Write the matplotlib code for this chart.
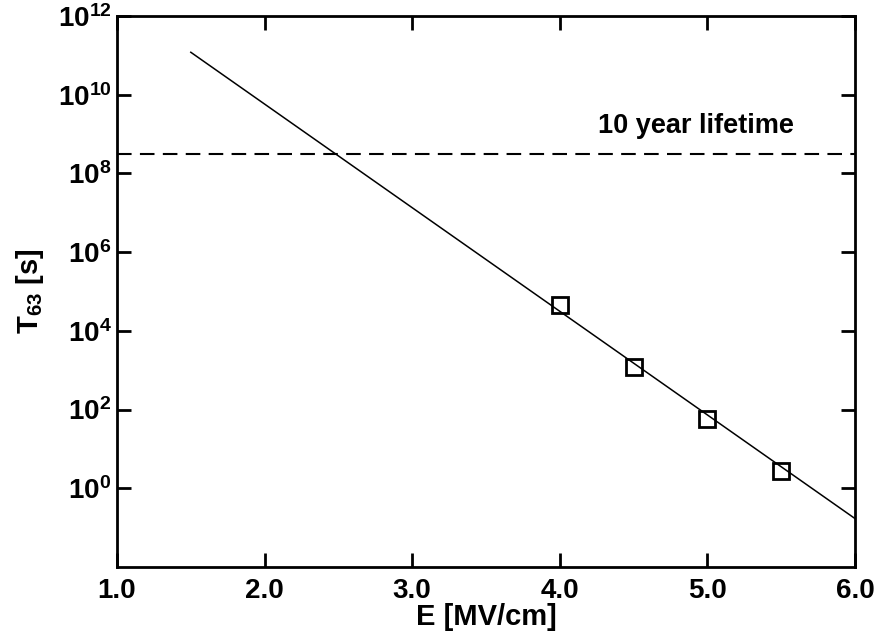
import matplotlib
matplotlib.use("Agg")
import matplotlib.pyplot as plt

# measured lifetimes (square markers)
e_meas = [4.0, 4.5, 5.0, 5.5]          # MV/cm
t63_meas = [4.5e4, 1.2e3, 57.0, 2.7]   # s

# extrapolated fit line
e_fit = [1.5, 6.0]
t63_fit = [1.2e11, 0.17]

# 10 year reference
ten_years = 3.15e8

x_ticks = [1.0, 2.0, 3.0, 4.0, 5.0, 6.0]
y_exps = [0, 2, 4, 6, 8, 10, 12]

plt.rcParams["font.family"] = ["Liberation Sans", "DejaVu Sans"]
plt.rcParams["font.weight"] = "bold"
plt.rcParams["mathtext.fontset"] = "custom"
plt.rcParams["mathtext.rm"] = "Liberation Sans:bold"
plt.rcParams["mathtext.bf"] = "Liberation Sans:bold"
plt.rcParams["mathtext.it"] = "Liberation Sans:bold"

fs = 20

fig = plt.figure(figsize=(8.81, 6.36), dpi=100)
ax = fig.add_axes([0.1328, 0.1085, 0.8377, 0.8663])

ax.plot(e_fit, t63_fit, color="black", lw=1.1)
ax.plot(e_meas, t63_meas, ls="none", marker="s", ms=12,
        mfc="none", mec="black", mew=2.0)
ax.axhline(ten_years, color="black", lw=1.5, dashes=[7, 4])
ax.text(4.26, 10**9.21, "10 year lifetime", fontsize=19.5,
        fontweight="bold", va="center", ha="left")

ax.set_yscale("log")
ax.set_xlim(1.0, 6.0)
ax.set_ylim(1e-2, 1e12)
ax.set_xticks(x_ticks)
ax.set_xticklabels([f"{v:.1f}" for v in x_ticks], fontsize=fs, fontweight="bold")
ax.set_yticks([10.0**k for k in y_exps])
ax.set_yticklabels([rf"$10^{{{k}}}$" for k in y_exps], fontsize=fs)
ax.minorticks_off()

ax.tick_params(direction="in", length=10, width=2, top=True, right=True)
ax.tick_params(axis="x", pad=8)
ax.tick_params(axis="y", pad=4)
for s in ax.spines.values():
    s.set_linewidth(2)

ax.set_xlabel("E [MV/cm]", fontsize=21, fontweight="bold", labelpad=-1)
ax.set_ylabel(r"T$_{63}$ [s]", fontsize=21, fontweight="bold", labelpad=8)

fig.savefig("out.png", dpi=100)
